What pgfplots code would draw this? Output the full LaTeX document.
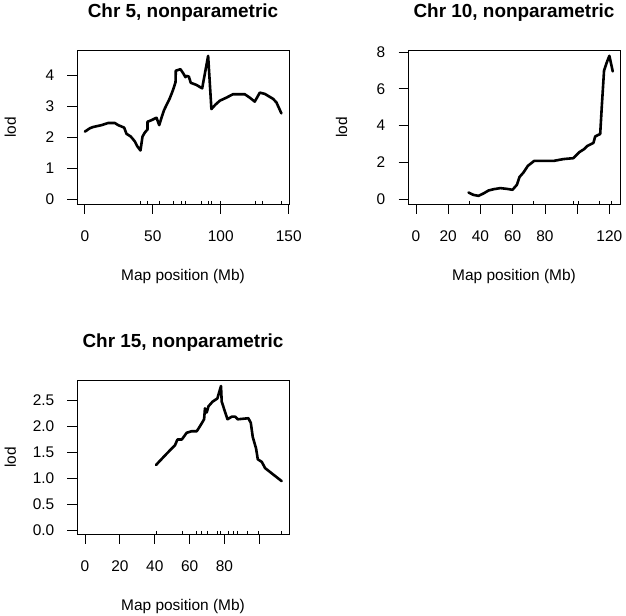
\documentclass[border=0pt]{standalone}
\usepackage{fontspec}
\setmainfont{Liberation Sans}
\usepackage{pgfplots}
\pgfplotsset{compat=1.18}
\begin{document}
\fontsize{15.5}{18}\selectfont
\begin{tikzpicture}
\path[use as bounding box] (0bp,0bp) rectangle (626bp,616bp);
\pgfplotsset{
 rplot/.style={
  width=212bp, height=154bp, scale only axis,
  anchor=south west,
  axis line style={line width=0.8bp},
  tick align=outside, xtick pos=bottom, ytick pos=left,
  major tick length=9.5bp,
  tick style={black, line width=0.8bp},
  xticklabel style={anchor=north, inner sep=0pt, yshift=-17bp},
  yticklabel style={anchor=east, inner sep=0pt, xshift=-13bp},
  title style={at={([yshift=27bp]axis description cs:0.5,1)}, anchor=base, inner sep=0pt, font=\fontsize{19}{22}\selectfont\bfseries},
  xlabel style={at={([yshift=-76bp]axis description cs:0.5,0)}, anchor=base, inner sep=0pt},
  ylabel style={at={([xshift=-61bp]axis description cs:0,0.5)}, anchor=base, inner sep=0pt},
  xlabel={Map position (Mb)}, ylabel={lod},
 },
 curve/.style={black, line width=2.6bp, line join=round, line cap=round, mark=none},
 rug/.style={only marks, mark=|, mark size=1.7bp, mark options={black, line width=0.6bp}}
}
% Panel 1: Chr 5
\begin{axis}[rplot, at={(77bp,411.7bp)},
  title={Chr 5, nonparametric},
  xmin=-5.8, xmax=150.2, ymin=-0.16, ymax=4.82,
  xtick={0,50,100,150}, xticklabels={0,50,100,150},
  ytick={0,1,2,3,4}, yticklabels={0,1,2,3,4}]
\addplot[curve] coordinates {
(0,2.19) (3.7,2.30) (6.1,2.34) (12.3,2.40) (17.2,2.47) (22,2.47) (24.5,2.40) (28.9,2.32)
(30.6,2.12) (33.8,2.03) (36.8,1.87) (38.5,1.72) (40.9,1.58) (42.4,2.03) (44.1,2.16) (46.1,2.26)
(46.1,2.51) (49,2.56) (52.7,2.64) (54.7,2.40) (56.4,2.64) (58.3,2.89) (62.5,3.27) (64.9,3.54)
(66.7,3.79) (66.9,4.16) (70.3,4.21) (72.3,4.08) (74,3.95) (74.8,3.99) (76.5,3.97) (77.9,3.77)
(82.1,3.70) (86.3,3.59) (90.7,4.64) (91.8,3.85) (93.1,2.92) (96,3.06) (99.3,3.19) (104.2,3.29)
(109,3.40) (117.6,3.40) (121.3,3.29) (125,3.16) (128.7,3.45) (132.4,3.41) (138.5,3.25)
(141,3.13) (144.6,2.78)
};
\addplot[rug] coordinates {
(40.7,-0.105) (45.6,-0.105) (54.7,-0.105) (65.4,-0.105) (70.8,-0.105) (73.8,-0.105)
(85.5,-0.105) (90.9,-0.105) (92.9,-0.105) (99.5,-0.105) (125.2,-0.105) (130.6,-0.105) (144.4,-0.105)
};
\end{axis}
% Panel 2: Chr 10
\begin{axis}[rplot, at={(408bp,411.7bp)},
  title={Chr 10, nonparametric},
  xmin=-4.96, xmax=126.6, ymin=-0.28, ymax=8.1,
  xtick={0,20,40,60,80,100,120}, xticklabels={0,20,40,60,80,{},120},
  ytick={0,2,4,6,8}, yticklabels={0,2,4,6,8}]
\addplot[curve] coordinates {
(32.6,0.36) (35.7,0.23) (38.8,0.18) (41.9,0.31) (45,0.47) (48.1,0.54) (52.3,0.60) (56.4,0.56)
(59.9,0.51) (62.6,0.78) (64.2,1.2) (66.7,1.45) (69.4,1.81) (73.3,2.08) (77.1,2.08) (85.3,2.08)
(91.5,2.18) (97.7,2.23) (98.7,2.32) (101.4,2.56) (104.3,2.72) (106.4,2.90) (110.1,3.06)
(111.2,3.41) (113.2,3.50) (114.3,3.54) (115.3,5.04) (116.7,7.0) (118.4,7.44) (120.0,7.80)
(122.1,6.95)
};
\addplot[rug] coordinates {
(33.2,-0.188) (72.9,-0.188) (97.7,-0.188) (100.8,-0.188) (113.8,-0.188) (121.5,-0.188)
};
\end{axis}
% Panel 3: Chr 15
\begin{axis}[rplot, at={(77bp,81.7bp)},
  title={Chr 15, nonparametric},
  xmin=-4.6, xmax=117, ymin=-0.083, ymax=2.88,
  xtick={0,20,40,60,80,100}, xticklabels={0,20,40,60,80,{}},
  ytick={0,0.5,1,1.5,2,2.5}, yticklabels={0.0,0.5,1.0,1.5,2.0,2.5}]
\addplot[curve] coordinates {
(40.7,1.25) (46.9,1.47) (51.6,1.63) (53,1.74) (55.5,1.74) (58.3,1.87) (61.2,1.90) (64.1,1.90)
(66,2.0) (68.3,2.13) (68.8,2.34) (69.8,2.26) (70.8,2.38) (73.2,2.47) (75.9,2.53) (78,2.77)
(78.4,2.47) (81.7,2.13) (84.2,2.18) (86.1,2.18) (87.6,2.13) (93.7,2.15) (95.1,2.06) (96.2,1.79)
(98.1,1.57) (99.1,1.36) (101.4,1.31) (103.3,1.19) (112.8,0.94)
};
\addplot[rug] coordinates {
(40.9,-0.05) (55.8,-0.05) (63.9,-0.05) (66.6,-0.05) (70,-0.05) (76.1,-0.05) (77.6,-0.05)
(81.9,-0.05) (84.9,-0.05) (87.6,-0.05) (93.3,-0.05) (99.3,-0.05) (112.6,-0.05)
};
\end{axis}
\end{tikzpicture}
\end{document}
